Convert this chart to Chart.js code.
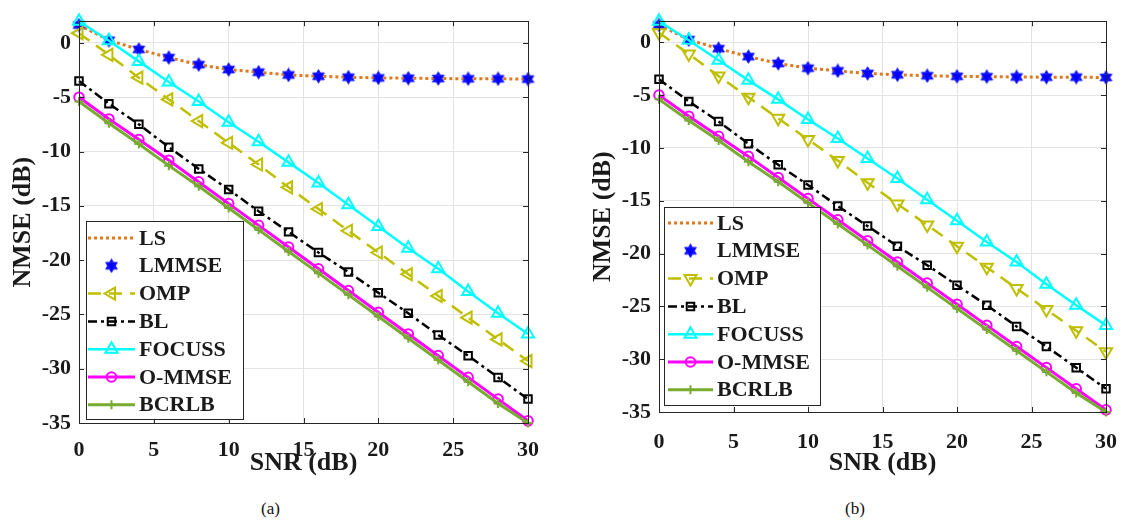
<!DOCTYPE html>
<html>
<head>
<meta charset="utf-8">
<script src="https://cdn.jsdelivr.net/npm/chart.js@4.4.1/dist/chart.umd.min.js"></script>
<style>
    body { margin: 0; background: #fff; width: 1134px; height: 524px; overflow: hidden; position: relative; }
    canvas { position: absolute; top: 0; }
    #chartA { left: 0; }
    #chartB { left: 580px; }
    .caption { position: absolute; top: 499px; font: 17px "Liberation Serif", serif; color: #111; }
</style>
</head>
<body>
<canvas id="chartA" width="560" height="480"></canvas>
<canvas id="chartB" width="554" height="480"></canvas>
<div class="caption" style="left:261px">(a)</div>
<div class="caption" style="left:845px">(b)</div>
<script>
// data (NMSE in dB vs SNR in dB)
const snrDb = [0, 2, 4, 6, 8, 10, 12, 14, 16, 18, 20, 22, 24, 26, 28, 30];
const lsNmse = [1.65, 0.25, -0.6, -1.35, -2.0, -2.45, -2.7, -2.95, -3.07, -3.16, -3.22, -3.25, -3.28, -3.3, -3.3, -3.33];
const lmmseNmse = [1.65, 0.25, -0.6, -1.35, -2.0, -2.45, -2.7, -2.95, -3.07, -3.16, -3.22, -3.25, -3.28, -3.3, -3.3, -3.33];
const ompNmse = [0.9, -1.1, -3.2, -5.2, -7.2, -9.2, -11.2, -13.3, -15.3, -17.3, -19.3, -21.3, -23.3, -25.3, -27.3, -29.3];
const blNmse = [-3.5, -5.6, -7.5, -9.6, -11.6, -13.5, -15.5, -17.4, -19.3, -21.1, -23.0, -24.9, -26.9, -28.8, -30.8, -32.8];
const focussNmse = [2.0, 0.2, -1.7, -3.6, -5.4, -7.3, -9.1, -11.0, -12.9, -14.9, -16.9, -18.9, -20.8, -22.9, -24.9, -26.8];
const ommseNmse = [-5.0, -7.0, -8.9, -10.8, -12.8, -14.8, -16.8, -18.8, -20.8, -22.8, -24.8, -26.8, -28.8, -30.8, -32.8, -34.8];
const bcrlbNmse = [-5.4, -7.4, -9.3, -11.3, -13.2, -15.2, -17.2, -19.2, -21.2, -23.2, -25.2, -27.2, -29.2, -31.2, -33.2, -35.0];

const seriesNames = ['LS', 'LMMSE', 'OMP', 'BL', 'FOCUSS', 'O-MMSE', 'BCRLB'];
const xTicks = [0, 5, 10, 15, 20, 25, 30];
const yTicks = [-35, -30, -25, -20, -15, -10, -5, 0];

const FONT = '"Liberation Serif", "Times New Roman", serif';
const TEXT = '#1a1a1a';

// filled six-point star for LMMSE
function makeHexagram() {
    let c = document.createElement('canvas');
    c.width = 15; c.height = 15;
    let g = c.getContext('2d');
    g.fillStyle = '#0000ff';
    g.strokeStyle = '#2a2aff';
    g.lineWidth = 1;
    for (let k = 0; k < 2; k++) {
        g.beginPath();
        for (let j = 0; j < 3; j++) {
            let a = (k * 60 - 90 + j * 120) * Math.PI / 180;
            let px = 7.5 + 6.8 * Math.cos(a), py = 7.5 + 6.8 * Math.sin(a);
            if (j == 0) g.moveTo(px, py); else g.lineTo(px, py);
        }
        g.closePath();
        g.fill();
        g.stroke();
    }
    return c;
}
const hexagram = makeHexagram();

function toPoints(vals) {
    return vals.map((v, i) => ({ x: snrDb[i], y: v }));
}

function buildDatasets(ompRotation) {
    let values = [lsNmse, lmmseNmse, ompNmse, blNmse, focussNmse, ommseNmse, bcrlbNmse];
    let styles = [
        { color: '#e0791d', width: 3, dash: [3, 3], point: false, radius: 0 },
        { color: '#0000ff', width: 0, dash: [], point: hexagram, radius: 7, noLine: true },
        { color: '#bfbf00', width: 2.5, dash: [13, 8], point: 'triangle', radius: 7, rotation: ompRotation },
        { color: '#000000', width: 2.5, dash: [9, 4, 3, 4], point: 'rect', radius: 5.3 },
        { color: '#00ffff', width: 2.5, dash: [], point: 'triangle', radius: 7 },
        { color: '#ff00ff', width: 3, dash: [], point: 'circle', radius: 4.8 },
        { color: '#77ac30', width: 3, dash: [], point: 'cross', radius: 4.5 }
    ];
    return values.map((vals, i) => {
        let s = styles[i];
        return {
            label: seriesNames[i],
            data: toPoints(vals),
            borderColor: s.color,
            backgroundColor: s.color,
            borderWidth: s.width,
            borderDash: s.dash,
            borderCapStyle: 'butt',
            showLine: !s.noLine,
            pointStyle: s.point,
            pointRadius: s.radius,
            pointRotation: s.rotation || 0,
            pointBorderColor: s.color,
            pointBackgroundColor: 'rgba(0,0,0,0)',
            pointBorderWidth: 2,
            tension: 0,
            clip: false,
            order: seriesNames.length - i
        };
    });
}

// box with inward tick marks on all four sides, like the original axes
const framePlugin = {
    id: 'frame',
    afterDatasetsDraw(chart) {
        let ctx = chart.ctx;
        let a = chart.chartArea;
        let xs = chart.scales.x, ys = chart.scales.y;
        ctx.save();
        ctx.strokeStyle = '#262626';
        ctx.lineWidth = 1;
        ctx.strokeRect(Math.round(a.left) + 0.5, Math.round(a.top) + 0.5, Math.round(a.right - a.left), Math.round(a.bottom - a.top));
        ctx.beginPath();
        xTicks.forEach(v => {
            let px = Math.round(xs.getPixelForValue(v)) + 0.5;
            ctx.moveTo(px, a.bottom); ctx.lineTo(px, a.bottom - 5);
            ctx.moveTo(px, a.top); ctx.lineTo(px, a.top + 5);
        });
        yTicks.forEach(v => {
            let py = Math.round(ys.getPixelForValue(v)) + 0.5;
            ctx.moveTo(a.left, py); ctx.lineTo(a.left + 5, py);
            ctx.moveTo(a.right, py); ctx.lineTo(a.right - 5, py);
        });
        ctx.stroke();
        ctx.restore();
    }
};

// legend box inside the axes
const boxLegendPlugin = {
    id: 'boxLegend',
    afterDraw(chart, args, opts) {
        let ctx = chart.ctx;
        ctx.save();
        ctx.fillStyle = '#ffffff';
        ctx.fillRect(opts.x, opts.y, opts.w, opts.h);
        ctx.strokeStyle = '#262626';
        ctx.lineWidth = 1;
        ctx.strokeRect(opts.x + 0.5, opts.y + 0.5, opts.w, opts.h);
        ctx.font = 'bold 22px ' + FONT;
        ctx.textBaseline = 'middle';
        chart.data.datasets.forEach((ds, i) => {
            let y = opts.firstRow + i * opts.rowGap;
            if (ds.showLine) {
                ctx.beginPath();
                ctx.strokeStyle = ds.borderColor;
                ctx.lineWidth = ds.borderWidth;
                ctx.lineCap = 'butt';
                ctx.setLineDash(ds.borderDash);
                ctx.moveTo(opts.lineX0, y);
                ctx.lineTo(opts.lineX1, y);
                ctx.stroke();
                ctx.setLineDash([]);
            }
            if (ds.pointStyle) {
                ctx.strokeStyle = ds.pointBorderColor;
                ctx.fillStyle = 'rgba(0,0,0,0)';
                ctx.lineWidth = 2;
                Chart.helpers.drawPoint(ctx, {
                    pointStyle: ds.pointStyle,
                    radius: ds.pointRadius,
                    rotation: ds.pointRotation,
                    borderWidth: 2
                }, (opts.lineX0 + opts.lineX1) / 2, y);
            }
            ctx.fillStyle = TEXT;
            ctx.fillText(ds.label, opts.textX, y + 1);
        });
        ctx.restore();
    }
};

function makeChart(canvasId, cfg) {
    let tickFont = { family: FONT, size: 22, weight: 'bold' };
    let titleFont = { family: FONT, size: 26, weight: 'bold' };
    return new Chart(document.getElementById(canvasId), {
        type: 'line',
        data: { datasets: buildDatasets(cfg.ompRotation) },
        plugins: [framePlugin, boxLegendPlugin],
        options: {
            responsive: false,
            animation: false,
            events: [],
            layout: { padding: { top: 13, right: cfg.rightPad, left: 0, bottom: 0 } },
            plugins: {
                legend: { display: false },
                tooltip: { enabled: false },
                boxLegend: cfg.legend
            },
            scales: {
                x: {
                    type: 'linear',
                    min: 0,
                    max: 30,
                    afterBuildTicks: (scale) => { scale.ticks = xTicks.map(v => ({ value: v })); },
                    afterFit: (scale) => { scale.height = cfg.xAxisHeight; },
                    grid: { color: '#e3e3e3', lineWidth: 1, drawTicks: false },
                    border: { display: false },
                    ticks: { font: tickFont, color: TEXT, padding: cfg.xTickPad, maxRotation: 0 },
                    title: { display: true, text: 'SNR (dB)', font: titleFont, color: TEXT, padding: { top: 0, bottom: 1 } }
                },
                y: {
                    type: 'linear',
                    min: -35,
                    max: 2,
                    afterBuildTicks: (scale) => { scale.ticks = yTicks.map(v => ({ value: v })); },
                    afterFit: (scale) => { scale.width = 79; },
                    grid: { color: '#e3e3e3', lineWidth: 1, drawTicks: false },
                    border: { display: false },
                    ticks: { font: tickFont, color: TEXT, padding: 8 },
                    title: { display: true, text: 'NMSE (dB)', font: titleFont, color: TEXT, padding: { top: 8, bottom: 0 } }
                }
            }
        }
    });
}

makeChart('chartA', {
    ompRotation: -90,
    rightPad: 32,
    xAxisHeight: 57,
    xTickPad: 14,
    legend: { x: 86, y: 221, w: 157, h: 198, firstRow: 238, rowGap: 27.8, lineX0: 88, lineX1: 135, textX: 139 }
});

makeChart('chartB', {
    ompRotation: 180,
    rightPad: 15,
    xAxisHeight: 68,
    xTickPad: 17,
    legend: { x: 84, y: 207, w: 156, h: 198, firstRow: 223, rowGap: 27.8, lineX0: 88, lineX1: 133, textX: 137 }
});
</script>
</body>
</html>
